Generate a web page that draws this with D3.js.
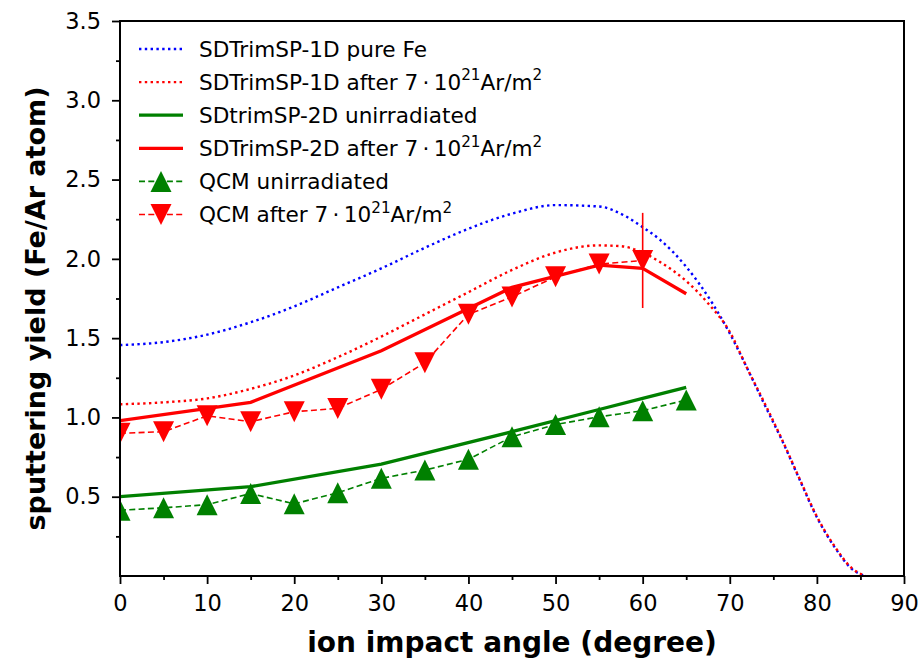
<!DOCTYPE html>
<html>
<head>
<meta charset="utf-8">
<script src="https://cdn.jsdelivr.net/npm/d3@7"></script>
<style>
  html, body { margin: 0; padding: 0; background: #fff; }
  svg { display: block; font-family: "DejaVu Sans", sans-serif; }
</style>
</head>
<body>
<svg id="chart" width="920" height="664"></svg>
<script>
// Sputtering yield of Fe under Ar bombardment vs. ion impact angle

// SDTrimSP-1D, pure Fe (dotted blue)
const sd1dPureAngle = [0, 5, 10, 15, 20, 25, 30, 35, 40, 45, 50, 55, 58, 60, 62, 65, 68, 70, 72, 74, 76, 78, 80, 82, 84, 85.5];
const sd1dPureYield = [1.456, 1.475, 1.522, 1.60, 1.70, 1.82, 1.94, 2.07, 2.19, 2.285, 2.339, 2.33, 2.27, 2.20, 2.12, 1.95, 1.72, 1.53, 1.31, 1.08, 0.855, 0.61, 0.37, 0.185, 0.045, 0.0];

// SDTrimSP-1D after 7e21 Ar/m^2 (dotted red)
const sd1dIrrAngle = [0, 5, 10, 15, 20, 25, 30, 35, 40, 45, 50, 55, 57.5, 60, 62, 65, 67.5, 70, 72, 74, 76, 78, 80, 82, 84, 85.6];
const sd1dIrrYield = [1.083, 1.095, 1.12, 1.18, 1.265, 1.38, 1.51, 1.65, 1.79, 1.93, 2.04, 2.085, 2.08, 2.04, 1.98, 1.86, 1.72, 1.54, 1.31, 1.09, 0.86, 0.615, 0.375, 0.19, 0.05, 0.0];

// SDtrimSP-2D, unirradiated (solid green)
const sd2dUnirrAngle = [0, 15, 30, 45, 55, 60, 65];
const sd2dUnirrYield = [0.50, 0.563, 0.706, 0.91, 1.05, 1.12, 1.19];

// SDTrimSP-2D after 7e21 Ar/m^2 (solid red)
const sd2dIrrAngle = [0, 15, 30, 45, 55, 60, 65];
const sd2dIrrYield = [0.98, 1.095, 1.42, 1.82, 1.96, 1.94, 1.78];

// QCM measurements
const qcmAngle = [0, 5, 10, 15, 20, 25, 30, 35, 40, 45, 50, 55, 60, 65];
const qcmUnirrYield = [0.415, 0.43, 0.45, 0.52, 0.455, 0.525, 0.616, 0.668, 0.736, 0.878, 0.955, 1.004, 1.042, 1.11];
const qcmIrrAngle = [0, 5, 10, 15, 20, 25, 30, 35, 40, 45, 50, 55, 60];
const qcmIrrYield = [0.90, 0.91, 1.01, 0.973, 1.036, 1.057, 1.177, 1.345, 1.65, 1.76, 1.887, 1.967, 1.99];
// error bar on the 60 degree irradiated point
const qcmIrrErrAngle = [60];
const qcmIrrErrLow = [1.69];
const qcmIrrErrHigh = [2.29];

const xTicks = [0, 10, 20, 30, 40, 50, 60, 70, 80, 90];
const xMinorTicks = [5, 15, 25, 35, 45, 55, 65, 75, 85];
const yTicks = [0.5, 1.0, 1.5, 2.0, 2.5, 3.0, 3.5];
const yMinorTicks = [0.25, 0.75, 1.25, 1.75, 2.25, 2.75, 3.25];

const BLUE = "#0000ff", RED = "#ff0000", GREEN = "#008000";

const svg = d3.select("#chart");
const L = 120, R = 904, T = 21, B = 576;
const x = d3.scaleLinear().domain([0, 90]).range([L, R]);
const y = d3.scaleLinear().domain([0, 3.5]).range([B, T]);

svg.append("defs").append("clipPath").attr("id", "plotclip")
  .append("rect").attr("x", L).attr("y", T).attr("width", R - L).attr("height", B - T);

const plot = svg.append("g").attr("clip-path", "url(#plotclip)");

const smooth = d3.line().x(d => x(d[0])).y(d => y(d[1])).curve(d3.curveMonotoneX);
const straight = d3.line().x(d => x(d[0])).y(d => y(d[1]));
const zip = (a, b) => a.map((v, i) => [v, b[i]]);

const DOTS = "2.4,3.4";

// simulation curves
plot.append("path").attr("d", smooth(zip(sd1dPureAngle, sd1dPureYield)))
  .attr("fill", "none").attr("stroke", BLUE).attr("stroke-width", 2.4).attr("stroke-dasharray", DOTS);
plot.append("path").attr("d", smooth(zip(sd1dIrrAngle, sd1dIrrYield)))
  .attr("fill", "none").attr("stroke", RED).attr("stroke-width", 2.4).attr("stroke-dasharray", DOTS);
plot.append("path").attr("d", straight(zip(sd2dUnirrAngle, sd2dUnirrYield)))
  .attr("fill", "none").attr("stroke", GREEN).attr("stroke-width", 3.3);
plot.append("path").attr("d", straight(zip(sd2dIrrAngle, sd2dIrrYield)))
  .attr("fill", "none").attr("stroke", RED).attr("stroke-width", 3.3);

// triangle marker paths (centred on the data point)
const TS = 10.5;
const triUp = `M0,${-TS} L${TS},${TS} L${-TS},${TS} Z`;
const triDown = `M0,${TS} L${TS},${-TS} L${-TS},${-TS} Z`;

// QCM unirradiated
plot.append("path").attr("d", straight(zip(qcmAngle, qcmUnirrYield)))
  .attr("fill", "none").attr("stroke", GREEN).attr("stroke-width", 1.6).attr("stroke-dasharray", "6,3.3");
plot.selectAll(".mk-up").data(zip(qcmAngle, qcmUnirrYield)).join("path")
  .attr("class", "mk-up").attr("d", triUp)
  .attr("transform", d => `translate(${x(d[0])},${y(d[1])})`)
  .attr("fill", GREEN);

// QCM irradiated
plot.append("path").attr("d", straight(zip(qcmIrrAngle, qcmIrrYield)))
  .attr("fill", "none").attr("stroke", RED).attr("stroke-width", 1.6).attr("stroke-dasharray", "6,3.3");
plot.selectAll(".err").data(qcmIrrErrAngle).join("line")
  .attr("class", "err")
  .attr("x1", d => x(d)).attr("x2", d => x(d))
  .attr("y1", (d, i) => y(qcmIrrErrLow[i])).attr("y2", (d, i) => y(qcmIrrErrHigh[i]))
  .attr("stroke", RED).attr("stroke-width", 1.6);
plot.selectAll(".mk-down").data(zip(qcmIrrAngle, qcmIrrYield)).join("path")
  .attr("class", "mk-down").attr("d", triDown)
  .attr("transform", d => `translate(${x(d[0])},${y(d[1])})`)
  .attr("fill", RED);

// axes
const axFont = 22.5;
const gx = svg.append("g").attr("transform", `translate(0,${B})`)
  .call(d3.axisBottom(x).tickValues(xTicks).tickSize(8).tickPadding(11).tickFormat(d3.format("d")));
const gxm = svg.append("g").attr("transform", `translate(0,${B})`)
  .call(d3.axisBottom(x).tickValues(xMinorTicks).tickSize(4).tickFormat(""));
const gy = svg.append("g").attr("transform", `translate(${L},0)`)
  .call(d3.axisLeft(y).tickValues(yTicks).tickSize(8).tickPadding(11).tickFormat(d3.format(".1f")));
const gym = svg.append("g").attr("transform", `translate(${L},0)`)
  .call(d3.axisLeft(y).tickValues(yMinorTicks).tickSize(4).tickFormat(""));
[gx, gxm, gy, gym].forEach(g => {
  g.select(".domain").remove();
  g.selectAll(".tick line").attr("stroke", "#000").attr("stroke-width", 1.8);
  g.selectAll("text").attr("font-size", axFont).attr("font-family", "DejaVu Sans").attr("fill", "#000");
});

// frame
svg.append("rect").attr("x", L).attr("y", T).attr("width", R - L).attr("height", B - T)
  .attr("fill", "none").attr("stroke", "#000").attr("stroke-width", 2);

// axis titles
svg.append("text").attr("x", (L + R) / 2).attr("y", 652)
  .attr("text-anchor", "middle").attr("font-weight", "bold").attr("font-size", 28)
  .text("ion impact angle (degree)");
svg.append("text").attr("transform", `translate(45,${(T + B) / 2 + 10}) rotate(-90)`)
  .attr("text-anchor", "middle").attr("font-weight", "bold").attr("font-size", 27)
  .text("sputtering yield (Fe/Ar atom)");

// legend
const legend = svg.append("g");
const legendItems = [
  { base: "SDTrimSP-1D pure Fe", fluence: false, color: BLUE, kind: "dot" },
  { base: "SDTrimSP-1D after 7\u2009\u00b7\u200910", fluence: true, color: RED, kind: "dot" },
  { base: "SDtrimSP-2D unirradiated", fluence: false, color: GREEN, kind: "solid" },
  { base: "SDTrimSP-2D after 7\u2009\u00b7\u200910", fluence: true, color: RED, kind: "solid" },
  { base: "QCM unirradiated", fluence: false, color: GREEN, kind: "up" },
  { base: "QCM after 7\u2009\u00b7\u200910", fluence: true, color: RED, kind: "down" }
];
const lx0 = 139, lx1 = 183, ltx = 199, ly0 = 49, ldy = 33.1;
legendItems.forEach((it, i) => {
  const cy = ly0 + i * ldy;
  const g = legend.append("g");
  const ln = g.append("line").attr("x1", lx0).attr("x2", lx1).attr("y1", cy).attr("y2", cy)
    .attr("stroke", it.color);
  if (it.kind === "dot") ln.attr("stroke-width", 2.4).attr("stroke-dasharray", DOTS);
  else if (it.kind === "solid") ln.attr("stroke-width", 3.3);
  else {
    ln.attr("stroke-width", 1.6).attr("stroke-dasharray", "6,3.3");
    g.append("path").attr("d", it.kind === "up" ? triUp : triDown)
      .attr("transform", `translate(${(lx0 + lx1) / 2},${cy})`).attr("fill", it.color);
  }
  const t = g.append("text").attr("x", ltx).attr("y", cy + 7.8).attr("font-size", 21.6).attr("fill", "#000");
  t.append("tspan").text(it.base);
  if (it.fluence) {
    t.append("tspan").attr("dy", -9.5).attr("font-size", 15.2).text("21");
    t.append("tspan").attr("dy", 9.5).text("Ar/m");
    t.append("tspan").attr("dy", -9.5).attr("font-size", 15.2).text("2");
  }
});
</script>
</body>
</html>
